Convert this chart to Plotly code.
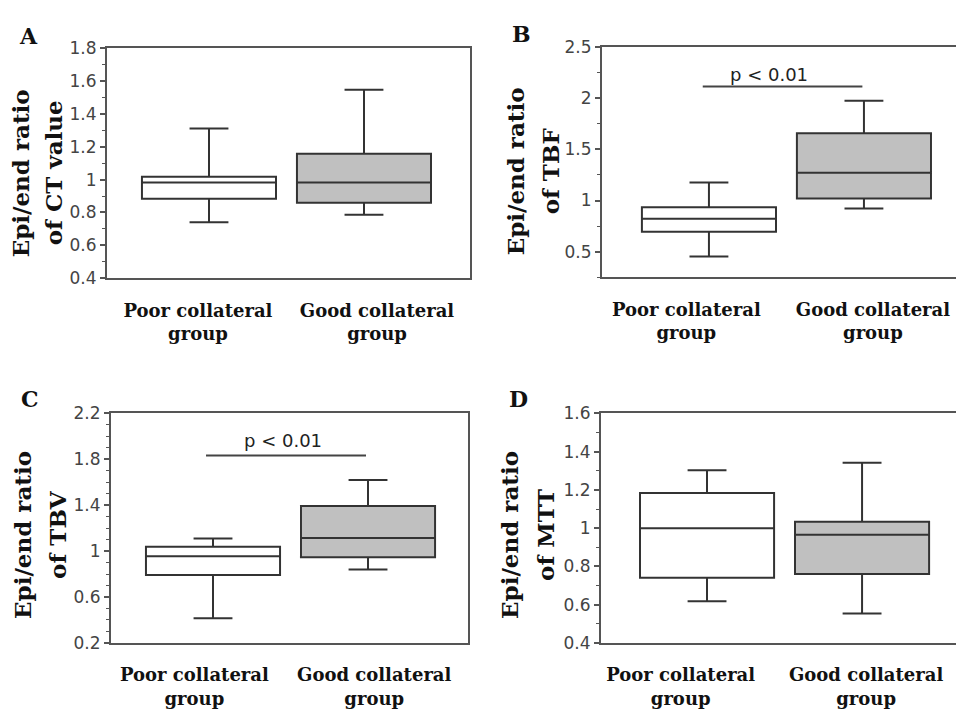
import plotly.graph_objects as go

W, H = 956, 717

# ---------------- data ----------------
groups = ["Poor collateral<br>group", "Good collateral<br>group"]
group_pos = [0, 1]
fills = ["#ffffff", "#c0c0c0"]

# Panel A: Epi/end ratio of CT value
a_lower = [0.741, 0.786]
a_q1 = [0.883, 0.859]
a_median = [0.982, 0.982]
a_q3 = [1.017, 1.157]
a_upper = [1.311, 1.546]

# Panel B: Epi/end ratio of TBF
b_lower = [0.453, 0.921]
b_q1 = [0.696, 1.019]
b_median = [0.823, 1.272]
b_q3 = [0.934, 1.658]
b_upper = [1.177, 1.975]

# Panel C: Epi/end ratio of TBV
c_lower = [0.414, 0.839]
c_q1 = [0.792, 0.946]
c_median = [0.955, 1.113]
c_q3 = [1.037, 1.392]
c_upper = [1.110, 1.620]

# Panel D: Epi/end ratio of MTT
d_lower = [0.617, 0.553]
d_q1 = [0.740, 0.760]
d_median = [0.999, 0.965]
d_q3 = [1.184, 1.034]
d_upper = [1.303, 1.342]

panel_letters = ["A", "B", "C", "D"]
title_line1 = ["Epi/end ratio"] * 4
title_line2 = ["of CT value", "of TBF", "of TBV", "of MTT"]
sig_text = "p < 0.01"

# ---------------- layout specs (pixels / axis units) ----------------
panels = [
    dict(stats=(a_lower, a_q1, a_median, a_q3, a_upper), px=(107, 470), py=(39, 276),
         xr=(-0.658, 1.684), yr=(0.4, 1.8), dtick=0.2, tick0=0.4, minor=0.1, full=True,
         lab_shift=(-0.071, 0.084),
         letter=(28, 27), t1=(20, 168), t2=(53, 168), sig=None),
    dict(stats=(b_lower, b_q1, b_median, b_q3, b_upper), px=(602, 956), py=(38, 275),
         xr=(-0.69, 1.594), yr=(0.25, 2.5), dtick=0.5, tick0=0.5, minor=0.25, full=False,
         lab_shift=(-0.146, 0.058),
         letter=(521, 25), t1=(515, 166), t2=(550, 166),
         sig=dict(x0=-0.04, x1=0.99, y=2.114, tx=0.387, ty=2.234)),
    dict(stats=(c_lower, c_q1, c_median, c_q3, c_upper), px=(111, 468), py=(415, 651),
         xr=(-0.658, 1.645), yr=(0.2, 2.2), dtick=0.4, tick0=0.2, minor=0.1, full=True,
         lab_shift=(-0.12, 0.04),
         letter=(30, 400), t1=(23, 540), t2=(58, 540),
         sig=dict(x0=-0.045, x1=0.987, y=1.834, tx=0.45, ty=1.963)),
    dict(stats=(d_lower, d_q1, d_median, d_q3, d_upper), px=(601, 956), py=(415, 651),
         xr=(-0.684, 1.606), yr=(0.4, 1.6), dtick=0.2, tick0=0.4, minor=0.1, full=False,
         lab_shift=(-0.17, 0.026),
         letter=(518, 400), t1=(510, 540), t2=(546, 540), sig=None),
]

AX = "#555555"
LINE = "#333333"
serif = "DejaVu Serif"
sans = "DejaVu Sans"

fig = go.Figure()
annotations = []
shapes = []
layout = {}

for i, p in enumerate(panels):
    n = "" if i == 0 else str(i + 1)
    lower, q1, med, q3, upper = p["stats"]
    for g in range(2):
        fig.add_trace(go.Box(
            x=[group_pos[g]], q1=[q1[g]], median=[med[g]], q3=[q3[g]],
            lowerfence=[lower[g]], upperfence=[upper[g]],
            width=0.865, whiskerwidth=0.29, boxpoints=False,
            fillcolor=fills[g], line=dict(color=LINE, width=2),
            xaxis="x" + n, yaxis="y" + n, showlegend=False, hoverinfo="skip",
        ))
    x0, x1 = p["px"]
    y0, y1 = p["py"]
    layout["xaxis" + n] = dict(
        domain=[x0 / W, min(x1 / W, 1.0)], anchor="y" + n, range=list(p["xr"]),
        tickvals=[gp + sh for gp, sh in zip(group_pos, p["lab_shift"])], ticktext=groups,
        ticks="", showline=True, linecolor=AX, linewidth=2, mirror=True,
        showgrid=False, zeroline=False,
        tickfont=dict(family=serif, size=18, color="#111111", weight="bold"),
        ticklabelstandoff=15,
    )
    layout["yaxis" + n] = dict(
        domain=[1 - y1 / H, 1 - y0 / H], anchor="x" + n, range=list(p["yr"]),
        tick0=p["tick0"], dtick=p["dtick"], ticks="outside", ticklen=5, tickwidth=1.5,
        tickcolor=AX, showline=True, linecolor=AX, linewidth=2,
        mirror=p["full"], showgrid=False, zeroline=False,
        tickfont=dict(family=sans, size=17, color="#444444"),
        minor=dict(dtick=p["minor"], ticks="outside", ticklen=3, tickwidth=1, tickcolor=AX),
    )
    lx, ly = p["letter"]
    annotations.append(dict(xref="paper", yref="paper", x=lx / W, y=1 - ly / H,
                            xanchor="center", yanchor="middle",
                            text=panel_letters[i], showarrow=False,
                            font=dict(family=serif, size=22, color="#111111", weight="bold")))
    for (tx, ty), txt in ((p["t1"], title_line1[i]), (p["t2"], title_line2[i])):
        annotations.append(dict(xref="paper", yref="paper", x=tx / W, y=1 - ty / H,
                                xanchor="center", yanchor="middle",
                                text=txt, textangle=-90, showarrow=False,
                                font=dict(family=serif, size=23, color="#111111", weight="bold")))
    s = p["sig"]
    if s:
        shapes.append(dict(type="line", xref="x" + n, yref="y" + n, x0=s["x0"], x1=s["x1"],
                           y0=s["y"], y1=s["y"], line=dict(color="#444444", width=2)))
        annotations.append(dict(xref="x" + n, yref="y" + n, x=s["tx"], y=s["ty"],
                                xanchor="center", yanchor="middle",
                                text=sig_text, showarrow=False,
                                font=dict(family=sans, size=18, color="#222222")))

fig.update_layout(
    width=W, height=H, margin=dict(l=0, r=0, t=0, b=0),
    paper_bgcolor="white", plot_bgcolor="white",
    annotations=annotations, shapes=shapes, boxmode="overlay",
    **layout,
)

fig.write_html("out.html")
